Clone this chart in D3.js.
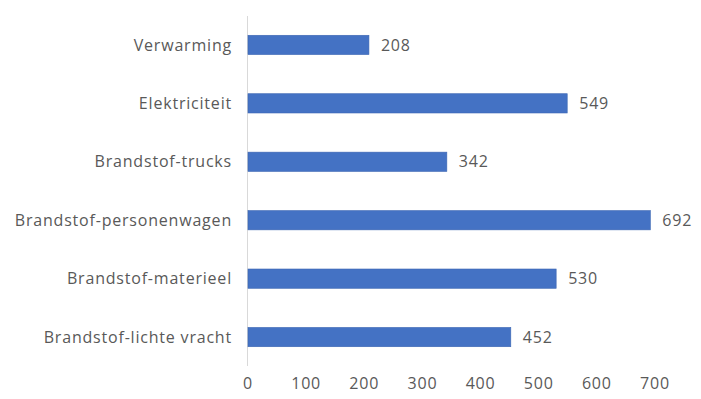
<!DOCTYPE html>
<html>
<head>
<meta charset="utf-8">
<script src="https://cdn.jsdelivr.net/npm/d3@7"></script>
<style>
  body { margin: 0; background: #fff; }
  text { font-family: 'Open Sans', sans-serif; fill: #595959; letter-spacing: 0.8px; }
</style>
</head>
<body>
<div id="chart"></div>
<script>
const categories = ['Verwarming', 'Elektriciteit', 'Brandstof-trucks', 'Brandstof-personenwagen', 'Brandstof-materieel', 'Brandstof-lichte vracht'];
const values = [208, 549, 342, 692, 530, 452];
const ticks = [0, 100, 200, 300, 400, 500, 600, 700];

const width = 701, height = 399;

let svg = d3.select('#chart')
    .append('svg')
    .attr('width', width)
    .attr('height', height);

let x = d3.scaleLinear().domain([0, 700]).range([248, 655]);
let y = d3.scaleBand().domain(categories).range([16, 366]).paddingInner(0.67).paddingOuter(0.33);

// vertical axis line
svg.append('line')
    .attr('x1', x(0) - 0.5).attr('x2', x(0) - 0.5)
    .attr('y1', 16).attr('y2', 366)
    .style('stroke', '#d9d9d9')
    .style('stroke-width', 1);

// bars
svg.selectAll('rect.bar')
    .data(values)
    .enter()
    .append('rect')
    .attr('class', 'bar')
    .attr('x', x(0))
    .attr('y', (d, i) => y(categories[i]))
    .attr('width', d => x(d) - x(0))
    .attr('height', y.bandwidth())
    .style('fill', '#4472c4')
    .style('stroke', '#3d67b3')
    .style('stroke-width', 0.6);

// value labels
svg.selectAll('text.val')
    .data(values)
    .enter()
    .append('text')
    .attr('class', 'val')
    .attr('x', d => x(d) + 12)
    .attr('y', (d, i) => y(categories[i]) + y.bandwidth() / 2)
    .attr('dy', '0.35em')
    .style('font-size', '16px')
    .text(d => d);

// category labels
svg.selectAll('text.cat')
    .data(categories)
    .enter()
    .append('text')
    .attr('class', 'cat')
    .attr('x', 232)
    .attr('y', d => y(d) + y.bandwidth() / 2)
    .attr('dy', '0.35em')
    .attr('text-anchor', 'end')
    .style('font-size', '16px')
    .text(d => d);

// x tick labels
svg.selectAll('text.tick')
    .data(ticks)
    .enter()
    .append('text')
    .attr('class', 'tick')
    .attr('x', d => x(d))
    .attr('y', 383)
    .attr('dy', '0.35em')
    .attr('text-anchor', 'middle')
    .style('font-size', '16px')
    .text(d => d);
</script>
</body>
</html>
